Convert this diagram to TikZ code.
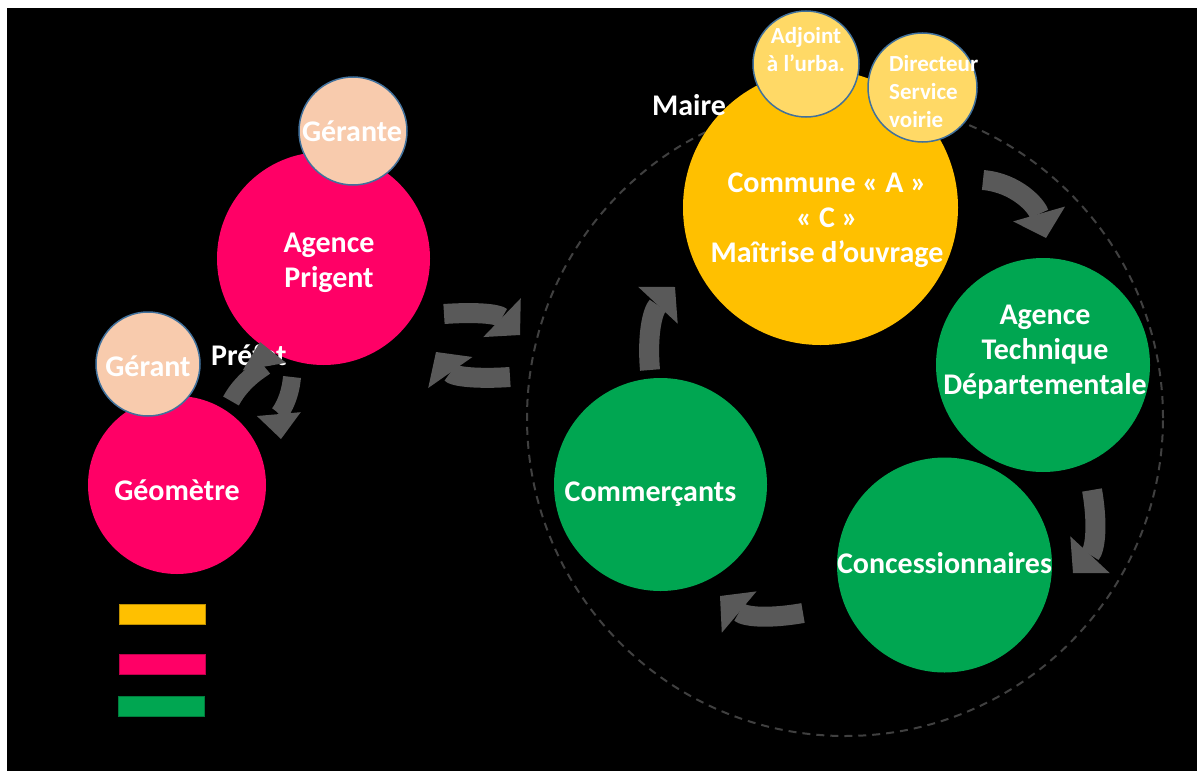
\documentclass[tikz,border=0pt]{standalone}
\usepackage{fontspec}
\setmainfont{Carlito}
\usetikzlibrary{arrows.meta}
\definecolor{cmag}{HTML}{FF0066}
\definecolor{cpeach}{HTML}{F8CBAD}
\definecolor{cgold}{HTML}{FFC000}
\definecolor{clgold}{HTML}{FFD966}
\definecolor{cgreen}{HTML}{00A651}
\definecolor{cgray}{HTML}{595959}
\definecolor{cdash}{HTML}{404040}
\definecolor{cedge}{HTML}{41719C}
\begin{document}
\begin{tikzpicture}[x=1pt,y=1pt,
  disc/.style={circle, inner sep=0pt, outer sep=0pt, minimum size=#1},
  small/.style={fill=#1, draw=cedge, line width=1.5pt},
  lbl/.style={text=white, font=\fontsize{30}{35}\selectfont\bfseries, align=center, inner sep=0pt},
  slbl/.style={text=white, font=\fontsize{23}{28}\selectfont\bfseries, inner sep=0pt},
  bigarrow/.style={draw=cgray, line width=20pt, -{Triangle[length=25pt,width=54pt,line width=0pt]}},
  smallarrow/.style={draw=cgray, line width=18pt, -{Triangle[length=25pt,width=44pt,line width=0pt]}},
  legbar/.style={rectangle, inner sep=0pt, minimum width=86pt, minimum height=20pt, anchor=north west, line width=1pt}
]
\useasboundingbox (0,0) rectangle (1197,-771);
\fill[white] (0,0) rectangle (1197,-771);
\fill[black] (7,-8) rectangle (1197,-771);

% dashed cycle
\node[circle, draw=cdash, line width=2pt, dash pattern=on 8pt off 6pt, minimum size=636pt, inner sep=0pt] (cycle) at (845,-418) {};

% left group
\node[disc=213pt, fill=cmag] (prigent) at (323.5,-258.5) {};
\node[disc=108pt, small=cpeach] (gerante) at (353,-131) {};
\node[disc=178pt, fill=cmag] (geometre) at (177,-485) {};
\node[disc=104pt, small=cpeach] (gerant) at (148,-364) {};

% right group
\node[disc=275pt, fill=cgold] (commune) at (820.5,-207.5) {};
\node[disc=106pt, small=clgold] (adjoint) at (806,-64) {};
\node[disc=109pt, small=clgold] (directeur) at (922.5,-87.5) {};
\node[disc=214pt, fill=cgreen] (atd) at (1043,-365) {};
\node[disc=215pt, fill=cgreen] (conc) at (944.5,-565) {};
\node[disc=213pt, fill=cgreen] (comm) at (660.5,-484.5) {};

% texts
\node[lbl] (tprigent) at (329,-262.5) {Agence\\Prigent};
\node[lbl] (tgerante) at (352,-131) {Gérante};
\node[lbl] (tgeometre) at (177,-490) {Géomètre};
\node[lbl] (tgerant) at (148,-366) {Gérant};
\node[lbl] (tcommune) at (827,-220.5) {Commune « A »\\« C »\\Maîtrise d’ouvrage};
\node[lbl] (tatd) at (1045,-352) {Agence\\Technique\\Départementale};
\node[lbl] (tconc) at (944.5,-563) {Concessionnaires};
\node[lbl] (tcomm) at (650.5,-494) {Commerçants};
\node[slbl, align=center] (tadjoint) at (806,-50) {Adjoint\\à l’urba.};
\node[slbl, align=left, anchor=west] (tdirecteur) at (889,-92) {Directeur\\Service\\voirie};
\node[lbl, anchor=base west] (maire) at (652,-115) {Maire};
\node[lbl, anchor=base west] (prefet) at (211,-365) {Préfet};

% legend
\node[legbar, fill=cgold, draw=cgold!75!black] (leg1) at (119,-604) {};
\node[legbar, fill=cmag, draw=cmag!75!black] (leg2) at (119,-653.5) {};
\node[legbar, fill=cgreen, draw=cgreen!75!black] (leg3) at (117.5,-695.5) {};

% arrow end points
\coordinate (a1s) at (983,-180);   \coordinate (a1e) at (1046,-238);
\coordinate (a2s) at (1092,-490);  \coordinate (a2e) at (1073,-573);
\coordinate (a3s) at (803,-613);   \coordinate (a3e) at (720,-596);
\coordinate (a4s) at (650,-370);   \coordinate (a4e) at (675,-287);
\coordinate (m1s) at (444,-314);   \coordinate (m1e) at (520,-335);
\coordinate (m2s) at (510,-377);   \coordinate (m2e) at (436,-352);
\coordinate (p1s) at (231,-401);   \coordinate (p1e) at (260,-342);
\coordinate (p2s) at (292,-377);   \coordinate (p2e) at (281,-439);

% cycle arrows
\draw[bigarrow] (a1s) to[out=-5,in=106] (a1e);
\draw[bigarrow] (a2s) to[out=-80,in=47] (a2e);
\draw[bigarrow] (a3s) to[out=190,in=-40] (a3e);
\draw[bigarrow] (a4s) to[out=95,in=227] (a4e);
% exchange arrows
\draw[bigarrow] (m1s) to[out=4,in=136] (m1e);
\draw[bigarrow] (m2s) to[out=184,in=-55] (m2e);
\draw[smallarrow] (p1s) to[out=62,in=-80] (p1e);
\draw[smallarrow] (p2s) to[out=265,in=95] (p2e);
\end{tikzpicture}
\end{document}
